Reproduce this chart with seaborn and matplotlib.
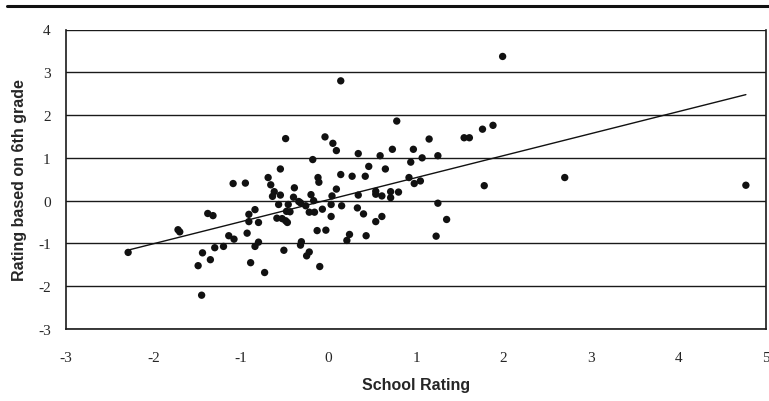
import numpy as np
import pandas as pd
import matplotlib
matplotlib.use("Agg")
import matplotlib.pyplot as plt
from matplotlib.lines import Line2D
import seaborn as sns

# School rating (x) and rating based on 6th grade (y) for each school
school_rating = [
    0.14, -0.49, -0.04, 0.05, 0.09, -0.18, 0.34, 0.59, 0.73, 0.78,
    0.46, 0.65, 0.42, 0.27, 0.14, -0.55, -0.69, -0.66, -1.09, -0.95,
    -0.12, -0.11, -0.39, 0.09, -0.62, -0.55, -0.64, -0.20, 0.04, 0.34,
    0.54, 0.54, 0.61, 0.71, 0.80, 0.71, 1.99, 1.15, 1.55, 1.61,
    1.76, 1.88, 0.97, 0.94, 1.07, 1.25, 0.92, 0.98, 1.05, 1.78,
    2.70, 4.77, 0.61, 1.25, 1.35, 1.23, -2.29, -1.72, -1.70, -1.49,
    -1.44, -1.45, -1.35, -1.38, -1.32, -1.30, -1.20, -1.14, -1.08, -0.93,
    -0.91, -0.91, -0.89, -0.84, -0.80, -0.84, -0.80, -0.73, -0.57, -0.59,
    -0.51, -0.53, -0.49, -0.47, -0.48, -0.44, -0.46, -0.40, -0.34, -0.32,
    -0.31, -0.32, -0.26, -0.25, -0.22, -0.17, -0.22, -0.16, -0.13, -0.07,
    -0.10, -0.03, 0.03, 0.03, 0.15, 0.21, 0.24, 0.33, 0.40, 0.43,
    0.54,
]
grade6_rating = [
    2.80, 1.45, 1.49, 1.34, 1.17, 0.96, 1.10, 1.05, 1.20, 1.86,
    0.80, 0.74, 0.57, 0.57, 0.61, 0.74, 0.54, 0.37, 0.40, 0.41,
    0.54, 0.43, 0.30, 0.27, 0.21, 0.13, 0.10, 0.14, 0.11, 0.13,
    0.22, 0.15, 0.11, 0.21, 0.20, 0.07, 3.37, 1.44, 1.47, 1.47,
    1.67, 1.76, 1.20, 0.90, 1.00, 1.05, 0.54, 0.40, 0.46, 0.35,
    0.54, 0.36, -0.37, -0.06, -0.44, -0.83, -1.21, -0.68, -0.73, -1.52,
    -1.22, -2.21, -1.38, -0.30, -0.35, -1.10, -1.07, -0.82, -0.90, -0.76,
    -0.32, -0.49, -1.45, -0.21, -0.51, -1.07, -0.97, -1.68, -0.09, -0.41,
    -1.16, -0.42, -0.47, -0.51, -0.25, -0.26, -0.09, 0.08, -0.02, -0.05,
    -0.96, -1.04, -0.12, -1.29, -1.20, 0.00, -0.27, -0.27, -0.70, -0.20,
    -1.54, -0.69, -0.09, -0.37, -0.12, -0.93, -0.79, -0.17, -0.31, -0.82,
    -0.49,
]
x_ticks = [-3, -2, -1, 0, 1, 2, 3, 4, 5]
y_ticks = [-3, -2, -1, 0, 1, 2, 3, 4]

df = pd.DataFrame({"School Rating": school_rating,
                   "Rating based on 6th grade": grade6_rating})

sns.set_theme(style="white")
plt.rcParams["font.family"] = ["Liberation Sans", "DejaVu Sans"]

fig = plt.figure(figsize=(7.69, 4.02), dpi=100)
ax = fig.add_axes([66 / 769, 1 - 330 / 402, 700 / 769, 299.5 / 402])

# horizontal gridlines at each integer rating
for yv in y_ticks:
    ax.axhline(yv, color="#1a1a1a", lw=1.0, zorder=1)

sns.scatterplot(data=df, x="School Rating", y="Rating based on 6th grade",
                ax=ax, color="#111111", s=28, edgecolor="none", zorder=3)
sns.regplot(data=df, x="School Rating", y="Rating based on 6th grade",
            ax=ax, scatter=False, ci=None, truncate=True,
            line_kws={"color": "#111111", "lw": 1.0, "zorder": 4})

ax.set_xlim(-3, 5)
ax.set_ylim(-3, 4)
ax.set_xticks(x_ticks)
ax.set_yticks(y_ticks)
ax.set_xticklabels([str(v) for v in x_ticks], family="Liberation Serif", fontsize=11)
ax.set_yticklabels([str(v) for v in y_ticks], family="Liberation Serif", fontsize=11)
ax.tick_params(axis="both", direction="out", length=5, width=1.0, color="#1a1a1a")
ax.tick_params(axis="x", pad=11)
ax.tick_params(axis="y", pad=6)

for side in ["left", "bottom", "right"]:
    ax.spines[side].set_visible(True)
    ax.spines[side].set_color("#1a1a1a")
    ax.spines[side].set_linewidth(1.2)
ax.spines["top"].set_visible(False)

ax.set_xlabel("School Rating", fontsize=11.5, fontweight="bold", labelpad=9)
ax.set_ylabel("Rating based on 6th grade", fontsize=11.5, fontweight="bold", labelpad=8)

# heavy rule across the top of the figure
fig.add_artist(Line2D([7 / 769, 1.0], [1 - 7 / 402, 1 - 7 / 402],
                      transform=fig.transFigure, color="#111111", lw=2.2))

fig.savefig("out.png", dpi=100)
